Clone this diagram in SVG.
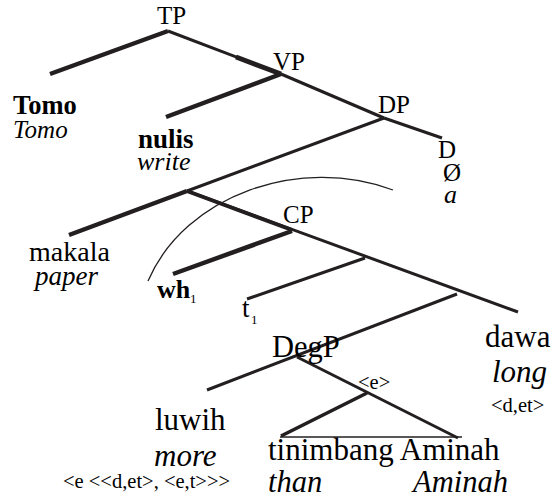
<svg xmlns="http://www.w3.org/2000/svg" width="553" height="500" viewBox="0 0 553 500">
<style>
text{font-family:"Liberation Serif",serif;fill:#000}
.b{font-weight:bold}
.i{font-style:italic}
.s{font-size:20.5px}
.sub{font-size:13px}
line,path{stroke:#231f20;stroke-linecap:butt;fill:none}
.t3{stroke-width:3}
.t4{stroke-width:4.5}
.thin{stroke-width:1.3}
</style>
<rect width="553" height="500" fill="#fff"/>
<g id="connectors">
<line class="t4" x1="168" y1="31" x2="50" y2="74"/>
<line class="t3" x1="168" y1="31" x2="281" y2="74"/>
<line stroke-width="5" x1="236" y1="57" x2="281" y2="74"/>
<line class="t4" x1="281" y1="74" x2="166" y2="117"/>
<line class="t3" x1="281" y1="74" x2="384" y2="118"/>
<line class="t3" x1="384" y1="118" x2="442" y2="138"/>
<line class="t3" x1="384" y1="118" x2="187" y2="191"/>
<line class="t4" x1="187" y1="191" x2="69" y2="235"/>
<line class="t3" x1="187" y1="191" x2="518" y2="312"/>
<line stroke-width="4" x1="187" y1="191" x2="292" y2="230"/>
<line class="t4" x1="292" y1="231" x2="173" y2="274"/>
<line class="t3" x1="365" y1="258" x2="247" y2="299"/>
<line class="t3" x1="457" y1="294" x2="207" y2="390"/>
<line class="t3" x1="297" y1="357" x2="458" y2="438"/>
<line stroke-width="3.5" x1="367" y1="393" x2="281" y2="436"/>
<line class="thin" x1="280" y1="437" x2="462" y2="437"/>
<path class="thin" d="M148,281 C185,195 300,155 393,190"/>
</g>
<g id="TP"><text x="157" y="24" font-size="25">TP</text></g>
<g id="VP"><text x="273" y="70" font-size="25">VP</text></g>
<g id="DP"><text x="378" y="113" font-size="25">DP</text></g>
<g id="D"><text x="438" y="158" font-size="25">D</text><text x="443" y="181" font-size="25">Ø</text><text x="444" y="203" font-size="26" class="i">a</text></g>
<g id="Tomo"><text x="13" y="114" font-size="26.5" class="b">Tomo</text><text x="13" y="138" font-size="25" class="i">Tomo</text></g>
<g id="nulis"><text x="138" y="148" font-size="27" class="b">nulis</text><text x="137" y="170" font-size="26" class="i">write</text></g>
<g id="makala"><text x="29" y="261" font-size="28">makala</text><text x="35" y="285" font-size="27" class="i">paper</text></g>
<g id="CP"><text x="283" y="223" font-size="25">CP</text></g>
<g id="wh"><text x="157" y="298" font-size="26" class="b">wh</text><text x="190" y="303" class="sub">1</text></g>
<g id="t1"><text x="242" y="317" font-size="27">t</text><text x="251" y="324" class="sub">1</text></g>
<g id="DegP"><text x="272" y="357" font-size="30.5">DegP</text></g>
<g id="e"><text x="358" y="389" class="s">&lt;e&gt;</text></g>
<g id="luwih"><text x="155" y="430" font-size="31">luwih</text><text x="154" y="466" font-size="31" class="i">more</text><text x="63" y="488" class="s">&lt;e &lt;&lt;d,et&gt;, &lt;e,t&gt;&gt;&gt;</text></g>
<g id="tinimbang"><text x="268" y="460" font-size="31">tinimbang Aminah</text><text x="268" y="492" font-size="30.5" class="i">than</text><text x="413" y="492" font-size="30.5" class="i">Aminah</text></g>
<g id="dawa"><text x="485" y="347" font-size="31">dawa</text><text x="492" y="382" font-size="31" class="i">long</text><text x="491" y="412" class="s">&lt;d,et&gt;</text></g>
</svg>
